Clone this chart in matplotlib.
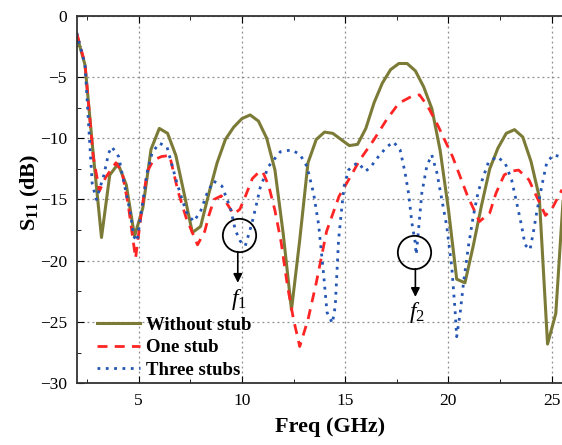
import matplotlib
matplotlib.use('Agg')
import matplotlib.pyplot as plt
from matplotlib.ticker import MultipleLocator

plt.rcParams['font.family'] = ['Liberation Serif', 'DejaVu Serif']
plt.rcParams['mathtext.fontset'] = 'custom'
plt.rcParams['mathtext.rm'] = 'Liberation Serif'
plt.rcParams['mathtext.it'] = 'Liberation Serif:italic'
plt.rcParams['mathtext.bf'] = 'Liberation Serif:bold'

# Without stub
freq_ws = [2.0, 2.4, 2.8, 3.2, 3.6, 4.0, 4.4, 4.8, 5.2, 5.6, 6.0, 6.4, 6.8, 7.2, 7.6,
           8.0, 8.4, 8.8, 9.2, 9.6, 10.0, 10.4, 10.8, 11.2, 11.6, 12.0, 12.4, 12.8,
           13.2, 13.6, 14.0, 14.4, 14.8, 15.2, 15.6, 16.0, 16.4, 16.8, 17.2, 17.6,
           18.0, 18.4, 18.8, 19.2, 19.6, 20.0, 20.4, 20.8, 21.2, 21.6, 22.0, 22.4,
           22.8, 23.2, 23.6, 24.0, 24.4, 24.8, 25.2, 25.6]
s11_ws = [-1.6, -4.0, -11.3, -18.1, -13.0, -12.1, -13.8, -18.0, -15.7, -10.9, -9.2,
          -9.6, -11.4, -14.5, -17.7, -17.2, -14.5, -12.0, -10.1, -9.1, -8.4, -8.1,
          -8.6, -10.0, -12.6, -17.8, -24.0, -18.3, -12.0, -10.1, -9.5, -9.6, -10.1,
          -10.6, -10.5, -9.2, -7.1, -5.5, -4.4, -3.9, -3.9, -4.5, -5.8, -7.6, -11.0,
          -15.8, -21.5, -21.8, -18.8, -15.5, -12.5, -10.8, -9.6, -9.3, -9.9, -11.9,
          -14.8, -26.8, -24.3, -13.8]

# One stub
freq_1s = [2.0, 2.4, 2.8, 3.1, 3.4, 3.9, 4.2, 4.5, 4.85, 5.1, 5.4, 5.7, 6.1, 6.5,
           6.9, 7.3, 7.85, 8.2, 8.4, 8.65, 9.0, 9.3, 9.6, 9.9, 10.2, 10.5, 10.8,
           11.0, 11.3, 11.6, 11.9, 12.2, 12.5, 12.8, 13.2, 13.6, 14.1, 14.7, 15.2,
           15.7, 16.4, 17.0, 17.6, 18.2, 18.6, 19.0, 19.5, 20.2, 20.9, 21.5, 22.0,
           22.3, 22.7, 23.0, 23.4, 23.9, 24.2, 24.7, 25.0, 25.5]
s11_1s = [-1.4, -3.9, -11.5, -14.3, -13.2, -12.0, -12.8, -15.5, -19.8, -16.5, -12.8,
          -11.8, -11.5, -11.4, -14.3, -16.5, -18.7, -17.6, -16.3, -15.0, -14.7,
          -15.4, -16.2, -15.8, -14.6, -13.3, -12.8, -12.7, -13.9, -15.9, -18.5,
          -22.0, -24.8, -27.0, -24.8, -21.8, -17.6, -14.75, -13.3, -11.8, -10.1,
          -8.5, -7.14, -6.6, -6.46, -7.4, -9.0, -11.5, -14.6, -16.8, -16.1, -14.5,
          -13.0, -12.7, -12.6, -13.4, -14.5, -16.3, -15.8, -14.2]

# Three stubs
freq_3s = [2.0, 2.4, 2.75, 2.95, 3.3, 3.55, 3.7, 4.03, 4.36, 4.6, 4.76, 4.92, 5.08,
           5.41, 5.65, 6.0, 6.37, 6.86, 7.3, 7.66, 7.99, 8.31, 8.63, 9.03, 9.44,
           9.68, 9.92, 10.16, 10.32, 10.49, 10.73, 10.89, 11.29, 11.86, 12.42,
           12.82, 13.15, 13.47, 13.71, 13.95, 14.12, 14.38, 14.52, 14.6, 14.68,
           14.84, 14.95, 15.16, 15.4, 15.64, 15.97, 16.21, 16.61, 17.02, 17.34,
           17.66, 17.9, 18.07, 18.23, 18.39, 18.44, 18.55, 18.71, 18.95, 19.19,
           19.44, 19.68, 19.92, 20.16, 20.32, 20.4, 20.57, 20.73, 20.97, 21.2,
           21.45, 21.93, 22.34, 22.74, 23.06, 23.31, 23.55, 23.71, 23.95, 24.11,
           24.27, 24.52, 24.76, 25.08, 25.4, 25.6]
s11_3s = [-1.4, -4.0, -13.7, -15.0, -13.1, -11.2, -10.7, -11.5, -14.2, -16.1, -18.0,
          -18.4, -16.6, -12.8, -11.2, -10.4, -10.7, -13.7, -16.0, -16.8, -16.0,
          -14.5, -13.5, -13.9, -15.7, -17.5, -18.4, -18.8, -17.9, -16.9, -15.2,
          -14.0, -12.3, -11.1, -10.95, -11.35, -12.3, -14.5, -17.0, -21.0, -24.2,
          -25.1, -23.7, -21.0, -18.3, -15.6, -13.9, -12.6, -12.2, -12.0, -12.7,
          -12.4, -11.5, -10.7, -10.3, -10.95, -12.8, -14.5, -16.9, -18.5, -19.5,
          -17.5, -14.5, -12.3, -11.35, -12.8, -15.0, -17.2, -20.5, -24.0, -26.2,
          -24.25, -21.8, -18.8, -16.4, -14.3, -12.0, -11.5, -12.0, -13.4, -15.3,
          -17.2, -18.7, -19.1, -17.7, -16.1, -13.9, -12.0, -11.35, -11.5, -11.8]

labels = ['Without stub', 'One stub', 'Three stubs']

fig = plt.figure(figsize=(5.62, 4.45), dpi=100)
ax = fig.add_axes([0.1365, 0.1387, 0.8635, 0.826])

ax.plot(freq_ws, s11_ws, color='#7b7b37', lw=2.2, label=labels[0])
ax.plot(freq_1s, s11_1s, color='#ff2525', lw=2.0, dashes=(3.6, 2.6), label=labels[1])
ax.plot(freq_3s, s11_3s, color='#2456b4', lw=2.0, dashes=(1.0, 2.0), label=labels[2])

# f1 / f2 markers
ax.plot([9.87], [-17.9], 'o', ms=24, mfc='none', mec='k', mew=1.3)
ax.annotate('', xy=(9.8, -21.8), xytext=(9.8, -19.25),
            arrowprops=dict(arrowstyle='-|>', color='k', lw=1.2,
                            mutation_scale=13, shrinkA=0, shrinkB=0))
ax.text(9.85, -23.2, r'$f_1$', ha='center', va='center', fontsize=17)

ax.plot([18.31], [-19.3], 'o', ms=24, mfc='none', mec='k', mew=1.3)
ax.annotate('', xy=(18.4, -22.95), xytext=(18.4, -20.65),
            arrowprops=dict(arrowstyle='-|>', color='k', lw=1.2,
                            mutation_scale=13, shrinkA=0, shrinkB=0))
ax.text(18.47, -24.2, r'$f_2$', ha='center', va='center', fontsize=17)

ax.set_xlim(2, 25.5)
ax.set_ylim(-30, 0)
ax.xaxis.set_major_locator(MultipleLocator(5))
ax.xaxis.set_minor_locator(MultipleLocator(2.5))
ax.yaxis.set_major_locator(MultipleLocator(5))
ax.yaxis.set_minor_locator(MultipleLocator(2.5))

ax.grid(True, which='major', color='#8c8c8c', lw=0.9, linestyle=(0, (1.5, 2.5)))
ax.spines['right'].set_visible(False)
for s in ['left', 'bottom', 'top']:
    ax.spines[s].set_linewidth(1.3)
    ax.spines[s].set_color('#333333')
ax.tick_params(which='both', direction='in', top=True, right=False, labelsize=12.5)
ax.tick_params(which='major', length=5, pad=7)
ax.tick_params(which='minor', length=3)

ax.set_xlabel('Freq (GHz)', fontsize=16, fontweight='bold')
ax.set_ylabel(r'$\mathbf{S}_{\mathbf{11}}$ (dB)', fontsize=16, fontweight='bold')
ax.xaxis.set_label_coords(0.522, -0.093)
ax.yaxis.set_label_coords(-0.072, 0.52)

leg = ax.legend(loc='upper left', bbox_to_anchor=(0.041, 0.182), frameon=False,
                prop={'weight': 'bold', 'size': 13.5}, handlelength=2.3,
                handletextpad=0.35, labelspacing=0.3, borderpad=0, borderaxespad=0)

fig.savefig('out.png', dpi=100)
